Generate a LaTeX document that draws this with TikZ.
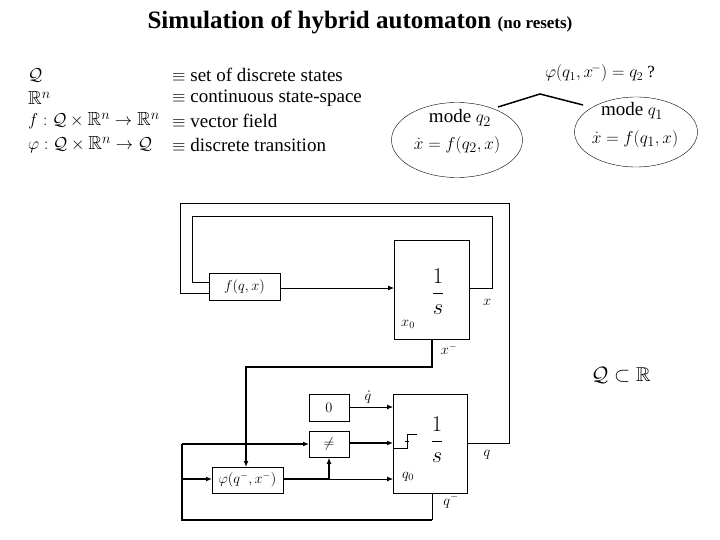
\documentclass[tikz,border=0pt]{standalone}
\usepackage{amsmath,amssymb}
\usepackage{fontspec}
\setmainfont{Liberation Serif}
\usetikzlibrary{arrows.meta,shapes.geometric}
\begin{document}
\begin{tikzpicture}[x=1pt,y=-1pt,
  blk/.style={draw,line width=0.8pt,inner sep=0pt,anchor=north west},
  ln/.style={line width=0.8pt},
  tk/.style={line width=1.6pt},
  arr/.style={-{Latex[length=6pt,width=5pt]}},
  lab/.style={font=\Large,inner sep=1pt},
  txt/.style={font=\fontsize{19}{21}\selectfont,inner sep=0pt}]
\useasboundingbox (0,0) rectangle (720,540);
\node[font=\bfseries\fontsize{25}{28}\selectfont] (title) at (360,22) {Simulation of hybrid automaton \fontsize{17}{20}\selectfont(no resets)};
% definitions
\node[txt,anchor=west] (d1) at (28,75) {$\mathcal{Q}$};
\node[txt,anchor=west] (d2) at (28,98) {$\mathbb{R}^n$};
\node[txt,anchor=west] (d3) at (28,121) {$f:\mathcal{Q}\times\mathbb{R}^n\rightarrow\mathbb{R}^n$};
\node[txt,anchor=west] (d4) at (28,145) {$\varphi:\mathcal{Q}\times\mathbb{R}^n\rightarrow\mathcal{Q}$};
\foreach \y/\t [count=\i] in {75/set of discrete states,98/continuous state-space,121/vector field,145/discrete transition}
  \node[txt,anchor=west] (e\i) at (172,\y) {$\equiv$ \t};
% automaton
\node[draw,ellipse,minimum width=131,minimum height=75,inner sep=0] (m2) at (457,140) {};
\node[draw,ellipse,minimum width=123,minimum height=70,inner sep=0] (m1) at (636,132) {};
\node[txt] (m2t) at (460,118) {mode $q_2$};
\node[txt] (m2e) at (457,145) {$\dot x = f(q_2,x)$};
\node[txt] (m1t) at (632,111) {mode $q_1$};
\node[txt] (m1e) at (635,139) {$\dot x = f(q_1,x)$};
\coordinate (tm) at (540,94);
\draw[line width=1.5pt] (498,107) -- (tm) -- (583,105);
\node[txt,font=\fontsize{17}{19}\selectfont] (tl) at (600,73) {$\varphi(q_1,x^{\!-}) = q_2$ ?};
% upper blocks
\node[blk,minimum width=71,minimum height=27] (f) at (209,273) {};
\node[lab] (ft) at (244.5,286.5) {$f(q,x)$};
\node[blk,minimum width=75,minimum height=99] (i1) at (394,240) {};
\node[font=\LARGE,scale=1.3] (i1t) at (438,292) {$\dfrac{1}{s}$};
\node[lab] (xl) at (487,302) {$x$};
\node[lab] (x0) at (408,324) {$x_0$};
\node[lab] (xm) at (449,349) {$x^-$};
\draw[ln,arr] (f.east |- 0,288) -- (i1.west |- 0,288);
\draw[ln] (469,288) -- (492,288) -- (492,216) -- (192,216) -- (192,282) -- (209,282);
\draw[ln] (467,443) -- (509,443) -- (509,203) -- (180,203) -- (180,293) -- (209,293);
% lower blocks
\node[blk,minimum width=40,minimum height=27] (z) at (309,394) {};
\node[lab] (zt) at (329,407.5) {$0$};
\node[blk,minimum width=40,minimum height=26] (ne) at (309,431) {};
\node[lab] (net) at (329,444) {$\neq$};
\node[blk,minimum width=74,minimum height=99] (i2) at (393,394) {};
\node[font=\LARGE,scale=1.3] (i2t) at (437,440) {$\dfrac{1}{s}$};
\node[blk,minimum width=71,minimum height=26] (ph) at (212,467) {};
\node[lab] (pht) at (247.5,480) {$\varphi(q^-,x^-)$};
\node[lab,anchor=south] (qd) at (368,404) {$\dot q$};
\node[lab] (ql) at (487,455) {$q$};
\node[lab] (q0) at (408,477) {$q_0$};
\node[lab] (qm) at (451,501) {$q^-$};
\node[txt,font=\fontsize{20}{22}\selectfont] (qr) at (621,375) {$\mathcal{Q}\subset\mathbb{R}$};
\draw[tk,arr] (432,339) -- (432,367) -- (246,367) -- (ph.north -| 246,0);
\draw[ln,arr] (z.east |- 0,407) -- (i2.west |- 0,407);
\draw[tk,arr] (ne.east |- 0,443) -- (i2.west |- 0,443);
\draw[tk] (ph.east |- 0,479) -- (329,479);
\draw[ln,arr] (329,479) -- (i2.west |- 0,479);
\draw[tk,arr] (329,479) -- (ne.south -| 329,0);
\draw[ln] (432,493) -- (432,520);
\draw[tk] (432,520) -- (182,520) -- (182,444);
\draw[tk,arr] (182,444) -- (ne.west |- 0,444);
\draw[tk,arr] (182,479) -- (ph.west |- 0,479);
\draw[ln] (393,448) -- (407,448) -- (407,434) -- (417,434);
\draw[ln] (405,441) -- (409,441);
\end{tikzpicture}
\end{document}
